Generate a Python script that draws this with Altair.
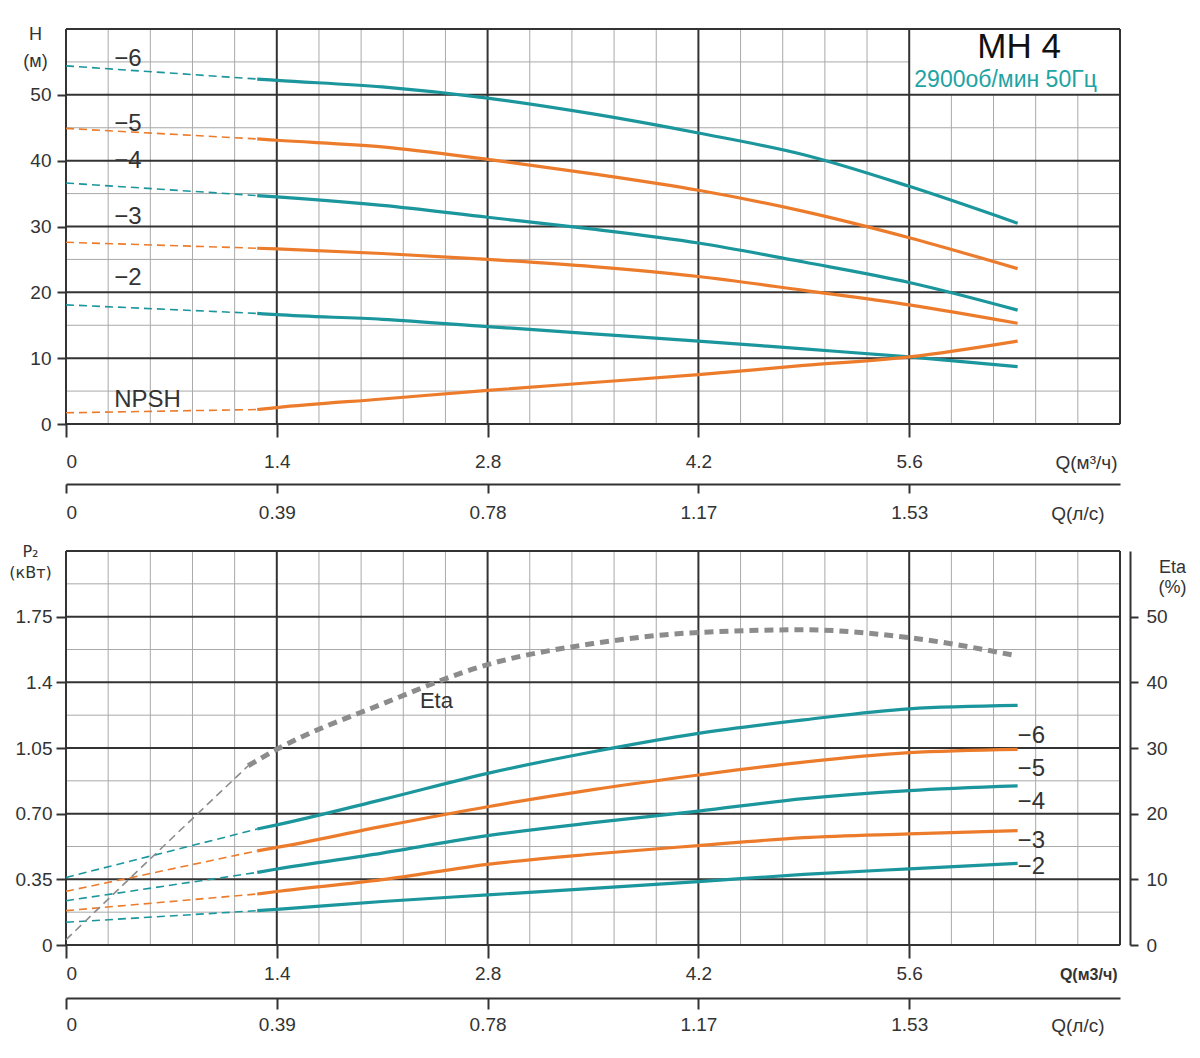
import altair as alt
import pandas as pd

TEAL = "#1b969c"
ORANGE = "#ec7c2c"
GRAY = "#8c8c8c"
DARK = "#333333"
MINOR = "#a9a9a9"
FONT = "Liberation Sans"

# ---------------- values ----------------
q_ticks = [0, 1.4, 2.8, 4.2, 5.6]
q_tick_labels = ["0", "1.4", "2.8", "4.2", "5.6"]
q_major = [0, 1.4, 2.8, 4.2, 5.6, 7.0]
q_minor = [round(i * 0.28, 2) for i in range(26) if i % 5]
q_ls_labels = ["0", "0.39", "0.78", "1.17", "1.53"]

h_ticks = [0, 10, 20, 30, 40, 50]
h_major = [0, 10, 20, 30, 40, 50, 60]
h_minor = [5, 15, 25, 35, 45, 55]

p_ticks = [0, 0.35, 0.70, 1.05, 1.40, 1.75]
p_tick_labels = ["0", "0.35", "0.70", "1.05", "1.4", "1.75"]
p_major = [0, 0.35, 0.70, 1.05, 1.40, 1.75, 2.10]
p_minor = [0.175, 0.525, 0.875, 1.225, 1.575, 1.925]
eta_ticks = [0, 10, 20, 30, 40, 50]

q_dash = [0, 1.27]
q_solid = [1.27, 1.4, 2.1, 2.8, 3.5, 4.2, 4.9, 5.6, 6.32]

h_names = ["−6", "−5", "−4", "−3", "−2", "NPSH"]
h_colors = [TEAL, ORANGE, TEAL, ORANGE, TEAL, ORANGE]
h_dash_vals = [
    [54.4, 52.4],
    [44.9, 43.3],
    [36.6, 34.7],
    [27.6, 26.7],
    [18.1, 16.8],
    [1.7, 2.2],
]
h_solid_vals = [
    [52.4, 52.2, 51.2, 49.5, 47.1, 44.2, 40.9, 36.1, 30.5],
    [43.3, 43.1, 42.1, 40.2, 38.0, 35.5, 32.3, 28.3, 23.6],
    [34.7, 34.5, 33.2, 31.4, 29.6, 27.5, 24.6, 21.5, 17.3],
    [26.7, 26.6, 25.9, 25.0, 23.9, 22.4, 20.3, 18.1, 15.3],
    [16.8, 16.6, 15.9, 14.8, 13.7, 12.6, 11.4, 10.2, 8.7],
    [2.2, 2.5, 3.8, 5.1, 6.3, 7.5, 8.9, 10.2, 12.6],
]
h_label_q = [0.32, 0.32, 0.32, 0.32, 0.32, 0.32]
h_label_h = [55.5, 45.6, 40.0, 31.5, 22.2, 3.6]

p_names = ["−6", "−5", "−4", "−3", "−2"]
p_colors = [TEAL, ORANGE, TEAL, ORANGE, TEAL]
p_dash_vals = [
    [0.360, 0.618],
    [0.286, 0.502],
    [0.236, 0.387],
    [0.183, 0.272],
    [0.121, 0.183],
]
p_solid_vals = [
    [0.618, 0.640, 0.775, 0.915, 1.030, 1.128, 1.200, 1.259, 1.277],
    [0.502, 0.520, 0.632, 0.737, 0.828, 0.906, 0.975, 1.025, 1.043],
    [0.387, 0.405, 0.490, 0.583, 0.652, 0.714, 0.780, 0.823, 0.848],
    [0.272, 0.285, 0.348, 0.430, 0.485, 0.530, 0.572, 0.592, 0.610],
    [0.183, 0.190, 0.232, 0.267, 0.302, 0.338, 0.376, 0.406, 0.435],
]
p_label_q = [6.32, 6.32, 6.32, 6.32, 6.32]
p_label_p = [1.113, 0.937, 0.762, 0.554, 0.416]

eta_dash_q = [0, 0.6, 1.21]
eta_dash_vals = [0.8, 14.0, 27.3]
eta_q = [1.21, 1.4, 2.1, 2.8, 3.5, 4.2, 4.9, 5.6, 6.28]
eta_vals = [27.3, 29.8, 36.7, 42.7, 45.9, 47.6, 48.0, 46.8, 44.2]
eta_label = ["Eta"]
eta_label_q = [2.46]
eta_label_p = [1.30]

title_text = ["MH 4"]
title_q = [6.33]
title_h = [57.3]
subtitle_text = ["2900об/мин 50Гц"]
subtitle_q = [6.24]
subtitle_h = [52.2]
title_box_q = [5.6, 7.0]
title_box_h = [50, 60]

# ---------------- helpers ----------------
W = 1054
H_TOP = 395
H_BOT = 394
LBL = 19


def list_expr(labels, step):
    return "[" + ",".join("'%s'" % s for s in labels) + "][round(datum.value / %s)]" % step


def long_df(names, colors, qs, vals):
    rows = []
    for n, c, vs in zip(names, colors, vals):
        for q, v in zip(qs, vs):
            rows.append({"curve": n, "color": c, "q": q, "v": v})
    return pd.DataFrame(rows)


xscale = alt.Scale(domain=[0, 7], nice=False, zero=False)


def x_primary(title, bold, size, pad, ty):
    return alt.Axis(
        values=q_ticks, labelExpr=list_expr(q_tick_labels, 1.4), grid=False,
        domain=False, ticks=True, tickSize=13, tickWidth=2, tickColor=DARK,
        labelFont=FONT, labelFontSize=LBL, labelColor=DARK, labelPadding=pad,
        title=title, titleFont=FONT, titleFontSize=size,
        titleFontWeight="bold" if bold else "normal", titleColor=DARK,
        titleAlign="right", titleBaseline="middle", titleX=W - 3, titleY=ty,
        orient="bottom",
    )


def x_secondary(offset, pad, ty, tick):
    return alt.Axis(
        values=q_ticks, labelExpr=list_expr(q_ls_labels, 1.4), grid=False,
        domain=True, domainColor=DARK, domainWidth=2, ticks=True,
        tickSize=tick, tickWidth=2, tickColor=DARK, labelFont=FONT,
        labelFontSize=LBL, labelColor=DARK, labelPadding=pad, orient="bottom",
        offset=offset, title="Q(л/с)", titleFont=FONT, titleFontSize=LBL,
        titleFontWeight="normal", titleColor=DARK, titleAlign="right",
        titleBaseline="middle", titleX=W - 16, titleY=ty,
    )


def grid_rules(vals, channel, scale, axis, color, width):
    df = pd.DataFrame({"v": vals})
    enc = alt.X("v:Q", scale=scale, axis=axis) if channel == "x" else alt.Y("v:Q", scale=scale, axis=axis)
    ch = alt.Chart(df).mark_rule(color=color, strokeWidth=width)
    return ch.encode(x=enc) if channel == "x" else ch.encode(y=enc)


def text_layer(texts, qs, vs, xax, yenc_scale, yax, size, color, align="left", weight="normal"):
    df = pd.DataFrame({"t": texts, "q": qs, "v": vs})
    return alt.Chart(df).mark_text(
        font=FONT, fontSize=size, color=color, align=align, baseline="middle",
        fontWeight=weight,
    ).encode(
        x=alt.X("q:Q", scale=xscale, axis=xax),
        y=alt.Y("v:Q", scale=yenc_scale, axis=yax),
        text="t:N",
    )


def curve_layers(df_dash, df_solid, xax, yscale, yax):
    dashed = alt.Chart(df_dash).mark_line(
        strokeWidth=1.6, strokeDash=[8, 5], interpolate="monotone"
    ).encode(
        x=alt.X("q:Q", scale=xscale, axis=xax),
        y=alt.Y("v:Q", scale=yscale, axis=yax),
        color=alt.Color("color:N", scale=None),
        detail="curve:N",
    )
    solid = alt.Chart(df_solid).mark_line(
        strokeWidth=3.2, interpolate="monotone"
    ).encode(
        x=alt.X("q:Q", scale=xscale, axis=xax),
        y=alt.Y("v:Q", scale=yscale, axis=yax),
        color=alt.Color("color:N", scale=None),
        detail="curve:N",
    )
    return dashed, solid


# ---------------- top panel ----------------
hscale = alt.Scale(domain=[0, 60], nice=False)
y_axis_h = alt.Axis(
    values=h_ticks, grid=False, domain=False, tickSize=9, tickWidth=2,
    tickColor=DARK, labelFont=FONT, labelFontSize=LBL, labelColor=DARK,
    labelPadding=6, title=["H", "(м)"], titleAngle=0, titleAlign="center",
    titleBaseline="alphabetic", titleX=-31, titleY=10, titleLineHeight=27,
    titleFont=FONT, titleFontSize=18, titleFontWeight="normal", titleColor=DARK,
)
xa_top = x_primary("Q(м³/ч)", False, LBL, 15, 38)

top_h_minor = grid_rules(h_minor, "y", hscale, y_axis_h, MINOR, 1)
top_box = alt.Chart(pd.DataFrame({
    "q": [title_box_q[0]], "q2": [title_box_q[1]],
    "h": [title_box_h[0]], "h2": [title_box_h[1]],
})).mark_rect(color="white").encode(
    x=alt.X("q:Q", scale=xscale, axis=xa_top), x2="q2:Q",
    y=alt.Y("h:Q", scale=hscale, axis=y_axis_h), y2="h2:Q",
)
top_h_major = grid_rules(h_major, "y", hscale, y_axis_h, DARK, 2)
top_v_major = grid_rules(q_major, "x", xscale, xa_top, DARK, 2)
top_dash, top_solid = curve_layers(
    long_df(h_names, h_colors, q_dash, h_dash_vals),
    long_df(h_names, h_colors, q_solid, h_solid_vals),
    xa_top, hscale, y_axis_h,
)
top_labels = text_layer(h_names, h_label_q, h_label_h, xa_top, hscale, y_axis_h, 24, DARK)
top_title = text_layer(title_text, title_q, title_h, xa_top, hscale, y_axis_h, 35, "#111111", align="center")
top_sub = text_layer(subtitle_text, subtitle_q, subtitle_h, xa_top, hscale, y_axis_h, 23, "#22a3a3", align="center")

top_main = alt.layer(top_h_minor, top_box, top_h_major, top_v_major, top_dash,
                     top_solid, top_labels, top_title, top_sub)
top_v_minor = grid_rules(q_minor, "x", xscale, x_secondary(60, 10, 29, 9), MINOR, 1)
top = alt.layer(top_v_minor, top_main).resolve_scale(x="independent").properties(
    width=W, height=H_TOP)

# ---------------- bottom panel ----------------
pscale = alt.Scale(domain=[0, 2.1], nice=False)
y_axis_p = alt.Axis(
    values=p_ticks, labelExpr=list_expr(p_tick_labels, 0.35), grid=False,
    domain=False, tickSize=10, tickWidth=2, tickColor=DARK, labelFont=FONT,
    labelFontSize=LBL, labelColor=DARK, labelPadding=4,
    title=["P₂", "(кВт)"], titleAngle=0, titleAlign="center",
    titleBaseline="alphabetic", titleX=-36, titleY=5, titleLineHeight=21,
    titleFont="DejaVu Sans", titleFontSize=16, titleFontWeight="normal",
    titleColor=DARK,
)
xa_bot = x_primary("Q(м3/ч)", True, 16, 6, 29)

bot_h_minor = grid_rules(p_minor, "y", pscale, y_axis_p, MINOR, 1)
bot_h_major = grid_rules(p_major, "y", pscale, y_axis_p, DARK, 2)
bot_v_major = grid_rules(q_major, "x", xscale, xa_bot, DARK, 2)
bot_dash, bot_solid = curve_layers(
    long_df(p_names, p_colors, q_dash, p_dash_vals),
    long_df(p_names, p_colors, q_solid, p_solid_vals),
    xa_bot, pscale, y_axis_p,
)
bot_labels = text_layer(p_names, p_label_q, p_label_p, xa_bot, pscale, y_axis_p, 24, DARK)
bot_eta_label = text_layer(eta_label, eta_label_q, eta_label_p, xa_bot, pscale, y_axis_p, 22, DARK, align="center")
bot_main = alt.layer(bot_h_minor, bot_h_major, bot_v_major, bot_dash, bot_solid,
                     bot_labels, bot_eta_label)

etascale = alt.Scale(domain=[0, 60], nice=False)
eta_axis = alt.Axis(
    values=eta_ticks, grid=False, domain=True, domainColor=DARK, domainWidth=2,
    tickSize=8, tickWidth=2, tickColor=DARK, labelFont=FONT, labelFontSize=LBL,
    labelColor=DARK, labelPadding=8, orient="right", offset=10,
    title=["Eta", "(%)"], titleAngle=0, titleAlign="center",
    titleBaseline="alphabetic", titleX=42, titleY=21, titleLineHeight=20,
    titleFont=FONT, titleFontSize=18, titleFontWeight="normal", titleColor=DARK,
)
eta_dash_df = pd.DataFrame({"q": eta_dash_q, "v": eta_dash_vals})
eta_df = pd.DataFrame({"q": eta_q, "v": eta_vals})
eta_thin = alt.Chart(eta_dash_df).mark_line(
    color=GRAY, strokeWidth=1.6, strokeDash=[8, 5], interpolate="monotone"
).encode(x=alt.X("q:Q", scale=xscale, axis=None),
         y=alt.Y("v:Q", scale=etascale, axis=eta_axis))
eta_thick = alt.Chart(eta_df).mark_line(
    color=GRAY, strokeWidth=5, strokeDash=[9, 6], interpolate="monotone"
).encode(x=alt.X("q:Q", scale=xscale, axis=None),
         y=alt.Y("v:Q", scale=etascale, axis=eta_axis))
eta_layer = alt.layer(eta_thin, eta_thick)

bot_v_minor = grid_rules(q_minor, "x", xscale, x_secondary(53, 6, 27, 11), MINOR, 1)
bottom = alt.layer(bot_v_minor, bot_main, eta_layer).resolve_scale(
    x="independent", y="independent").properties(width=W, height=H_BOT)

chart = alt.vconcat(top, bottom, spacing=18).properties(
    padding={"left": 0, "top": 16, "right": 5, "bottom": 5}
).configure_view(stroke=None).configure(font=FONT)

chart.save("out.html", embed_options={"renderer": "svg", "actions": False})
